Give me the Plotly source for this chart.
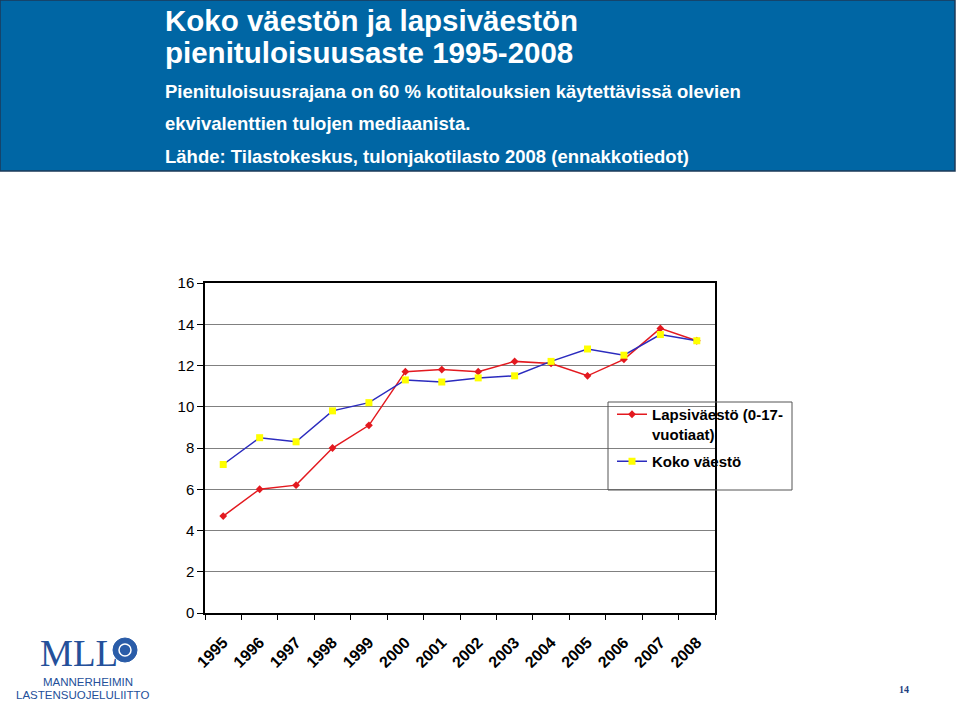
import plotly.graph_objects as go

years = ["1995", "1996", "1997", "1998", "1999", "2000", "2001",
         "2002", "2003", "2004", "2005", "2006", "2007", "2008"]
lapsivaesto = [4.7, 6.0, 6.2, 8.0, 9.1, 11.7, 11.8, 11.7, 12.2, 12.1, 11.5, 12.3, 13.8, 13.2]
koko_vaesto = [7.2, 8.5, 8.3, 9.8, 10.2, 11.3, 11.2, 11.4, 11.5, 12.2, 12.8, 12.5, 13.5, 13.2]
y_ticks = [0, 2, 4, 6, 8, 10, 12, 14, 16]

title_lines = ["Koko väestön ja lapsiväestön", "pienituloisuusaste 1995-2008"]
sub_lines = ["Pienituloisuusrajana on 60 % kotitalouksien käytettävissä olevien",
             "ekvivalenttien tulojen mediaanista.",
             "Lähde: Tilastokeskus, tulonjakotilasto 2008 (ennakkotiedot)"]

W, H = 959, 705
L, R, T, B = 205, 715, 283, 613


def px(x):
    return (x - L) / (R - L)


def py(y):
    return (B - y) / (B - T)


FONT = "Liberation Sans, Arial, sans-serif"
LOGO = "#24509A"

fig = go.Figure()
fig.add_trace(go.Scatter(
    x=years, y=lapsivaesto, name="Lapsiväestö (0-17-<br>vuotiaat)",
    legendgroup="lapsi",
    mode="lines+markers",
    line=dict(color="#E3191F", width=1.5),
    marker=dict(symbol="diamond", size=6, color="#E3191F"),
))
fig.add_trace(go.Scatter(
    x=years, y=koko_vaesto, name="Koko väestö",
    legendgroup="koko",
    mode="lines+markers",
    line=dict(color="#2B2BBE", width=1.5),
    marker=dict(symbol="square", size=7, color="#FFFF00"),
))

shapes = [
    # header box
    dict(type="rect", xref="paper", yref="paper",
         x0=px(0), x1=px(955), y0=py(171), y1=py(0),
         fillcolor="#0066A4", line=dict(color="#1C3A58", width=1.5), layer="below"),
    # legend box
    dict(type="rect", xref="paper", yref="paper",
         x0=px(608), x1=px(792), y0=py(490), y1=py(402),
         fillcolor="rgba(0,0,0,0)", line=dict(color="#555555", width=1)),
    # logo emblem
    dict(type="circle", xref="paper", yref="paper",
         x0=px(113), x1=px(137), y0=py(662), y1=py(638),
         fillcolor="#2A5CA8", line=dict(color="#2A5CA8", width=1)),
    dict(type="circle", xref="paper", yref="paper",
         x0=px(119), x1=px(131), y0=py(656), y1=py(644),
         fillcolor="rgba(0,0,0,0)", line=dict(color="#FFFFFF", width=1.5)),
]

annotations = []
for txt, yc in zip(title_lines, [20, 53]):
    annotations.append(dict(
        text=txt, xref="paper", yref="paper", x=px(163), y=py(yc),
        xanchor="left", yanchor="middle", showarrow=False,
        font=dict(family=FONT, size=29.5, color="white", weight="bold")))
for txt, yc in zip(sub_lines, [91, 124, 156]):
    annotations.append(dict(
        text=txt, xref="paper", yref="paper", x=px(163), y=py(yc),
        xanchor="left", yanchor="middle", showarrow=False,
        font=dict(family=FONT, size=18.5, color="white", weight="bold")))

# logo text
annotations.append(dict(
    text="MLL", xref="paper", yref="paper", x=px(38), y=py(653),
    xanchor="left", yanchor="middle", showarrow=False,
    font=dict(family="Liberation Serif, serif", size=37, color=LOGO)))
annotations.append(dict(
    text="MANNERHEIMIN", xref="paper", yref="paper", x=px(88), y=py(682),
    xanchor="center", yanchor="middle", showarrow=False,
    font=dict(family=FONT, size=11.5, color=LOGO)))
annotations.append(dict(
    text="LASTENSUOJELULIITTO", xref="paper", yref="paper", x=px(82), y=py(695),
    xanchor="center", yanchor="middle", showarrow=False,
    font=dict(family=FONT, size=11.5, color=LOGO)))
# page number
annotations.append(dict(
    text="14", xref="paper", yref="paper", x=px(904), y=py(689),
    xanchor="center", yanchor="middle", showarrow=False,
    font=dict(family="Liberation Serif, serif", size=10, color="#1F3F7F", weight="bold")))

fig.update_layout(
    width=W, height=H,
    margin=dict(l=L, r=W - R, t=T, b=H - B, pad=0),
    paper_bgcolor="white", plot_bgcolor="white",
    font=dict(family=FONT, color="black"),
    showlegend=True,
    legend=dict(
        x=px(612), y=py(398), xanchor="left", yanchor="top",
        bgcolor="rgba(0,0,0,0)", borderwidth=0,
        font=dict(family=FONT, size=15, color="black", weight="bold"),
        valign="top", tracegroupgap=5,
    ),
    xaxis=dict(
        type="category", range=[-0.5, 13.5], tickson="boundaries",
        ticks="outside", ticklen=5, tickcolor="black",
        showline=True, linecolor="black", linewidth=1.5, mirror=True,
        showgrid=False, tickangle=-45, ticklabelstandoff=12,
        tickfont=dict(family=FONT, size=16, color="black", weight="bold"),
    ),
    yaxis=dict(
        range=[0, 16], tickvals=y_ticks,
        ticks="outside", ticklen=6, tickcolor="black",
        showline=True, linecolor="black", linewidth=1.5, mirror=True,
        showgrid=True, gridcolor="#808080", gridwidth=1, zeroline=False,
        tickfont=dict(family=FONT, size=15, color="black"),
    ),
    shapes=shapes,
    annotations=annotations,
)

fig.write_html(
    "out.html",
    config={"displayModeBar": False},
    post_script="document.body.style.margin='0';document.body.style.overflow='hidden';",
)
